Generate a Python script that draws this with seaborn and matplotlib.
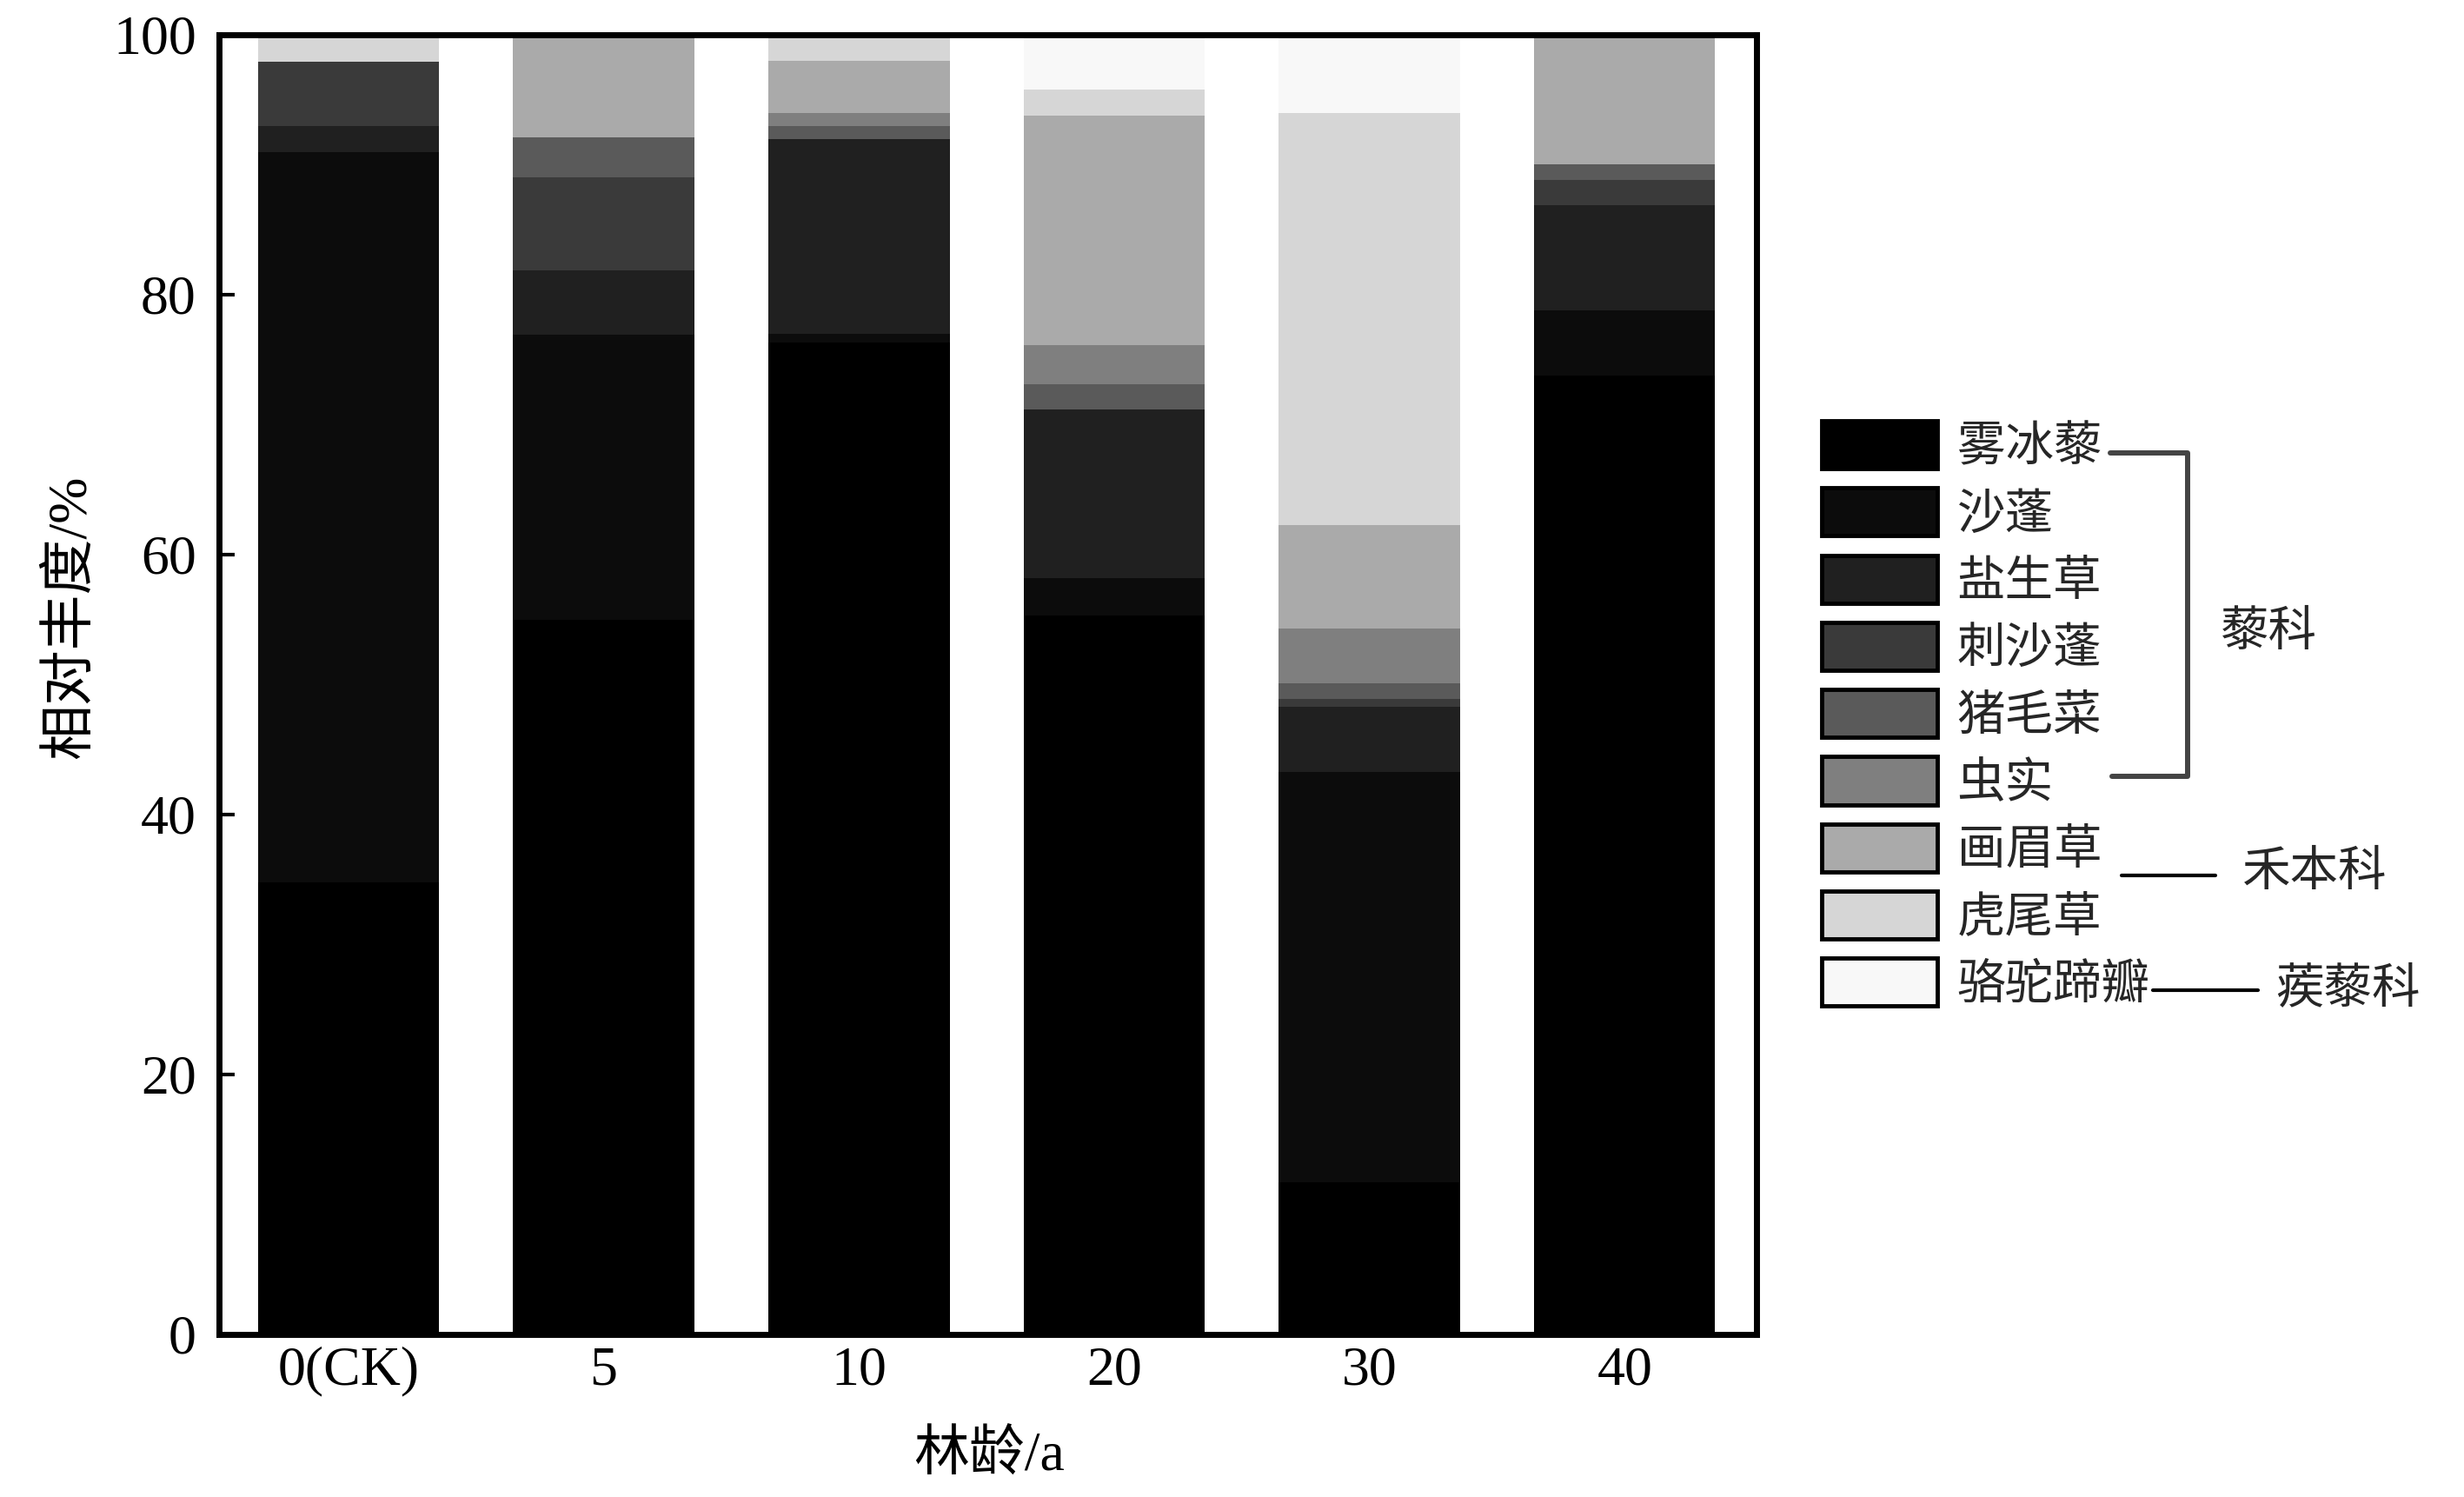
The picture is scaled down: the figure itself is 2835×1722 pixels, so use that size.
import numpy as np
import pandas as pd
import matplotlib
matplotlib.use("Agg")
import matplotlib.pyplot as plt
import seaborn as sns
from matplotlib.patches import Patch
from matplotlib.lines import Line2D

# stand ages (x categories)
ages = ["0(CK)", "5", "10", "20", "30", "40"]

# relative abundance (%) of each species
species = ["雾冰藜", "沙蓬", "盐生草", "刺沙蓬", "猪毛菜", "虫实", "画眉草", "虎尾草", "骆驼蹄瓣"]
wubingli = [34.8, 55.0, 76.3, 55.3, 11.7, 73.8]
shapeng = [56.2, 21.9, 0.7, 2.9, 31.6, 5.0]
yanshengcao = [2.0, 5.0, 15.0, 13.0, 5.0, 8.1]
cishapeng = [4.9, 7.1, 0.0, 0.0, 0.6, 1.9]
zhumaocai = [0.0, 3.1, 1.0, 1.9, 1.2, 1.2]
chongshi = [0.0, 0.0, 1.0, 3.0, 4.2, 0.0]
huameicao = [0.0, 7.9, 4.0, 17.7, 8.0, 10.0]
huweicao = [2.1, 0.0, 2.0, 2.0, 31.7, 0.0]
luotuotiban = [0.0, 0.0, 0.0, 4.2, 6.0, 0.0]

colors = ["#000000", "#0c0c0c", "#202020", "#3a3a3a", "#5a5a5a",
          "#7f7f7f", "#aaaaaa", "#d6d6d6", "#f8f8f8"]

df = pd.DataFrame({"age": ages})
for sp, vals in zip(species, [wubingli, shapeng, yanshengcao, cishapeng, zhumaocai,
                              chongshi, huameicao, huweicao, luotuotiban]):
    df[sp] = vals
cum = df[species].cumsum(axis=1)  # stacked tops

sns.set_theme(style="white")
plt.rcParams['font.family'] = ['Liberation Serif', 'Noto Sans CJK SC']

fig = plt.figure(figsize=(28.35, 17.22), dpi=100)
ax = fig.add_axes([0.0889, 0.1086, 0.6240, 0.8682])

# draw cumulative bars from the top species down so lower ones sit on top
for sp, c in reversed(list(zip(species, colors))):
    sns.barplot(x=df["age"], y=cum[sp], color=c, saturation=1, width=0.71,
                errorbar=None, edgecolor="none", linewidth=0, ax=ax)

ax.set_xlim(-0.507, 5.517)
ax.set_ylim(0, 100)
ax.set_yticks([0, 20, 40, 60, 80, 100])
ax.tick_params(axis="y", direction="in", length=13, width=3, left=True, labelsize=46, pad=19, colors="black")
ax.tick_params(axis="x", length=0, labelsize=46, pad=10, colors="black")
for s in ax.spines.values():
    s.set_visible(True)
    s.set_color("black")
    s.set_linewidth(5)

ax.set_xlabel("林龄/a", fontsize=46, color="black")
ax.set_ylabel("相对丰度/%", fontsize=46, color="black")
ax.xaxis.set_label_coords(0.501, -0.075)
ax.yaxis.set_label_coords(-0.079, 0.552)

handles = [Patch(facecolor=c, edgecolor="black", linewidth=3.5) for c in colors]
ax.legend(handles, species, loc="upper left", bbox_to_anchor=(2096 / 2835, 1 - 484 / 1722),
          bbox_transform=fig.transFigure, frameon=False, fontsize=40,
          handlelength=2.4, handleheight=1.15, handletextpad=0.4,
          labelspacing=0.34, borderpad=0, borderaxespad=0)

W, H = 2835, 1722
def fx(x):
    return x / W
def fy(y):
    return 1 - y / H

# family brackets
fig.add_artist(Line2D([fx(2428), fx(2517), fx(2517), fx(2430)],
                      [fy(521), fy(521), fy(893), fy(893)], color="#444444", lw=4.3))
fig.text(fx(2555), fy(729), "藜科", fontsize=40, va="center", ha="left")
fig.add_artist(Line2D([fx(2441), fx(2549)], [fy(1007), fy(1007)], color="black", lw=3))
fig.text(fx(2580), fy(1005), "禾本科", fontsize=40, va="center", ha="left")
fig.add_artist(Line2D([fx(2477), fx(2598)], [fy(1139), fy(1139)], color="black", lw=3))
fig.text(fx(2618), fy(1139), "蒺藜科", fontsize=40, va="center", ha="left")

fig.savefig("out.png", dpi=100)
